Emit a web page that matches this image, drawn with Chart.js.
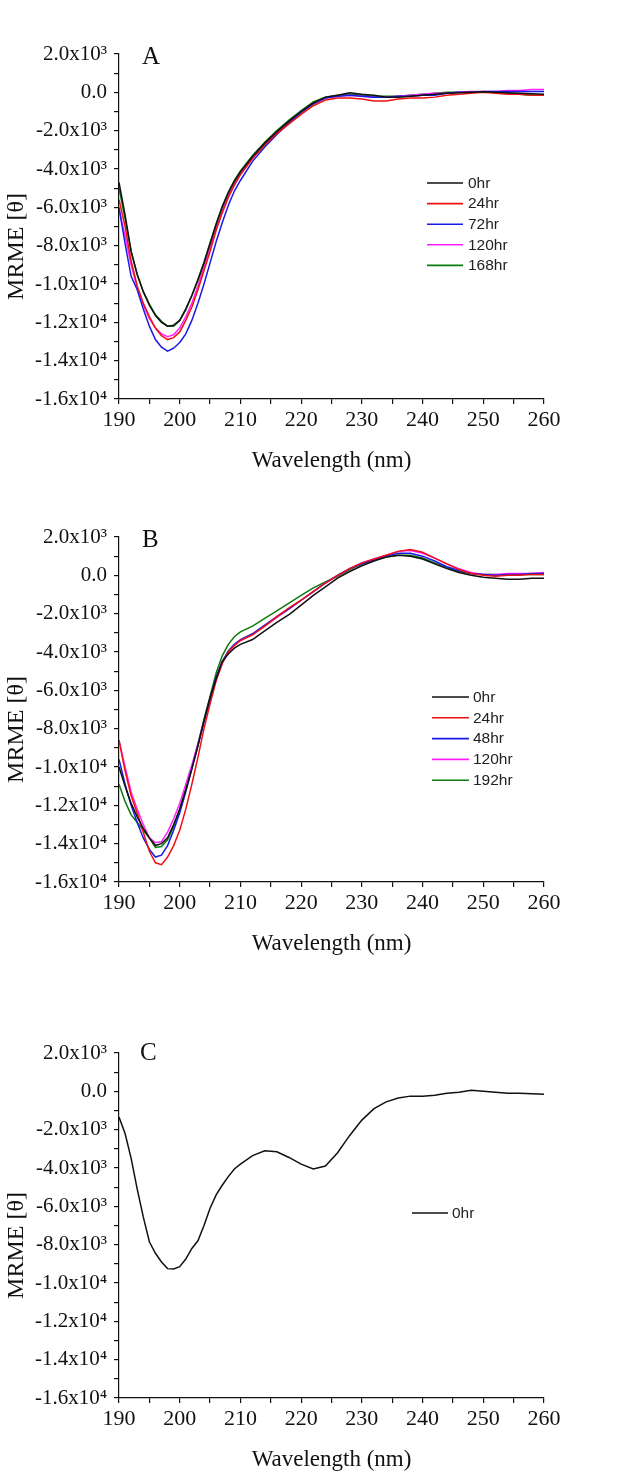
<!DOCTYPE html>
<html>
<head>
<meta charset="utf-8">
<script src="https://cdn.jsdelivr.net/npm/chart.js@4.4.1/dist/chart.umd.min.js"></script>
<style>
  html, body { margin: 0; padding: 0; background: #fff; }
  body { width: 626px; height: 1479px; position: relative; overflow: hidden; }
  canvas { position: absolute; left: 0; }
</style>
</head>
<body>
<canvas id="cA" width="626" height="483" style="top:0px;width:626px;height:483px"></canvas>
<canvas id="cB" width="626" height="483" style="top:483px;width:626px;height:483px"></canvas>
<canvas id="cC" width="626" height="480" style="top:999px;width:626px;height:480px"></canvas>
<script>
// ---------- DATA ----------
const wavelengths = [190,191,192,193,194,195,196,197,198,199,200,201,202,203,204,205,206,207,208,209,210,
  212,214,216,218,220,222,224,226,228,230,232,234,236,238,240,242,244,246,248,250,252,254,256,258,260];

const xTickLabels = ['190','200','210','220','230','240','250','260'];
const yTickLabels = ['2.0x10\u00B3','0.0','-2.0x10\u00B3','-4.0x10\u00B3','-6.0x10\u00B3','-8.0x10\u00B3',
  '-1.0x10\u2074','-1.2x10\u2074','-1.4x10\u2074','-1.6x10\u2074'];

// Panel A
const seriesNamesA = ['0hr','24hr','72hr','120hr','168hr'];
const a_0hr = [-4700,-6400,-8300,-9500,-10400,-11100,-11650,-12000,-12200,-12150,-11900,-11300,-10600,-9800,-8900,-7900,-6900,-6000,-5250,-4650,-4150,
  -3350,-2650,-2050,-1500,-1000,-550,-250,-150,-20,-100,-150,-250,-250,-200,-150,-100,-50,-20,0,30,0,-20,-50,-80,-100];
const a_24hr = [-5600,-7000,-8800,-10100,-11000,-11700,-12300,-12700,-12900,-12800,-12500,-11900,-11200,-10300,-9300,-8300,-7200,-6300,-5500,-4850,-4300,
  -3450,-2750,-2150,-1650,-1150,-700,-400,-300,-300,-350,-450,-450,-350,-300,-300,-250,-150,-100,-50,0,-50,-100,-100,-150,-150];
const a_72hr = [-6000,-7900,-9600,-10300,-11300,-12200,-12900,-13300,-13500,-13350,-13050,-12600,-11900,-11000,-10000,-8900,-7800,-6800,-5900,-5150,-4600,
  -3600,-2850,-2200,-1600,-1050,-600,-300,-200,-150,-200,-250,-250,-200,-200,-150,-150,-50,0,0,50,50,50,50,50,50];
const a_120hr = [-6100,-7500,-9000,-10200,-11100,-11800,-12300,-12600,-12750,-12650,-12300,-11700,-11000,-10100,-9100,-8100,-7100,-6200,-5400,-4750,-4250,
  -3400,-2700,-2100,-1550,-1050,-600,-300,-200,-150,-200,-250,-250,-200,-150,-100,-50,-50,0,50,50,50,100,100,150,150];
const a_168hr = [-5000,-6600,-8300,-9500,-10400,-11050,-11600,-11950,-12200,-12200,-11900,-11350,-10600,-9750,-8850,-7850,-6850,-5950,-5200,-4600,-4100,
  -3300,-2600,-2000,-1450,-950,-500,-250,-150,-100,-150,-200,-200,-200,-150,-100,-50,0,0,0,0,0,-50,-100,-150,-150];

// Panel B
const seriesNamesB = ['0hr','24hr','48hr','120hr','192hr'];
const b_0hr = [-10000,-11000,-11900,-12600,-13200,-13700,-14100,-14000,-13700,-13000,-12200,-11200,-10100,-8900,-7600,-6400,-5400,-4500,-4100,-3800,-3600,
  -3350,-2900,-2450,-2050,-1550,-1050,-600,-150,200,500,750,950,1050,1000,850,600,350,150,0,-100,-150,-200,-200,-150,-150];
const b_24hr = [-8600,-10200,-11500,-12400,-13400,-14400,-15000,-15100,-14700,-14100,-13300,-12200,-10900,-9500,-8000,-6700,-5500,-4600,-4000,-3650,-3400,
  -3100,-2650,-2150,-1700,-1300,-850,-400,0,350,650,850,1050,1250,1350,1200,900,600,300,100,0,-50,0,0,50,50];
const b_48hr = [-9600,-10900,-12000,-12900,-13700,-14300,-14700,-14600,-14100,-13300,-12400,-11300,-10100,-8900,-7600,-6400,-5300,-4500,-3950,-3600,-3350,
  -3050,-2600,-2150,-1750,-1300,-850,-400,0,350,600,800,1000,1150,1150,1000,750,450,250,100,50,0,50,50,100,100];
const b_120hr = [-8600,-10000,-11300,-12200,-13000,-13700,-13950,-13900,-13400,-12700,-11900,-10900,-9900,-8800,-7600,-6450,-5400,-4600,-4000,-3650,-3400,
  -3050,-2650,-2200,-1750,-1300,-850,-400,0,350,650,850,1050,1250,1300,1150,900,600,350,150,50,50,100,100,100,150];
const b_192hr = [-10900,-11800,-12500,-12900,-13300,-13700,-14200,-14150,-13800,-13100,-12200,-11100,-10000,-8800,-7500,-6300,-5100,-4200,-3600,-3200,-2950,
  -2650,-2250,-1850,-1450,-1050,-650,-350,-50,300,600,800,950,1050,1050,900,650,400,200,100,50,50,0,50,50,50];

// Panel C
const seriesNamesC = ['0hr'];
const c_0hr = [-1340,-2200,-3500,-5100,-6550,-7850,-8450,-8900,-9250,-9270,-9150,-8750,-8200,-7800,-7000,-6100,-5400,-4900,-4450,-4050,-3800,
  -3350,-3100,-3150,-3450,-3800,-4050,-3900,-3200,-2300,-1500,-900,-550,-350,-250,-250,-200,-100,-50,50,0,-50,-100,-100,-120,-150];

const colors5 = ['#111111','#ee1111','#1a1ae6','#ff22ff','#0c7a0c'];

// ---------- PLUGINS ----------
const decorPlugin = {
  id: 'decor',
  afterDraw(chart) {
    const o = chart.options.plugins.decor;
    const ctx = chart.ctx;
    const area = chart.chartArea;
    ctx.save();
    // panel letter
    ctx.fillStyle = '#111';
    ctx.font = '25px "Liberation Serif", "Times New Roman", serif';
    ctx.textAlign = 'left';
    ctx.textBaseline = 'middle';
    ctx.fillText(o.letter, o.letterX, o.letterY);
    // y axis title
    ctx.save();
    ctx.translate(17, (area.top + area.bottom) / 2 + 20);
    ctx.rotate(-Math.PI / 2);
    ctx.textAlign = 'center';
    ctx.textBaseline = 'middle';
    ctx.font = '24px "Liberation Serif", "Times New Roman", serif';
    ctx.fillText('MRME [\u03B8]', 0, 0);
    ctx.restore();
    // legend
    ctx.font = '15.5px "Liberation Sans", Arial, sans-serif';
    ctx.textAlign = 'left';
    ctx.textBaseline = 'middle';
    chart.data.datasets.forEach((ds, i) => {
      const y = o.legY + i * o.legStep;
      ctx.strokeStyle = ds.borderColor;
      ctx.lineWidth = 1.6;
      ctx.beginPath();
      ctx.moveTo(o.legX1, y);
      ctx.lineTo(o.legX2, y);
      ctx.stroke();
      ctx.fillStyle = '#222';
      ctx.fillText(ds.label, o.legTX, y + 0.5);
    });
    ctx.restore();
  }
};

function makePanel(id, names, series, canvasH, decor) {
  const datasets = series.map((vals, i) => ({
    label: names[i],
    data: wavelengths.map((w, k) => ({ x: w, y: vals[k] })),
    borderColor: colors5[i],
    backgroundColor: colors5[i],
    borderWidth: 1.5,
    pointRadius: 0,
    tension: 0,
    fill: false
  }));
  return new Chart(document.getElementById(id), {
    type: 'line',
    data: { datasets },
    plugins: [decorPlugin],
    options: {
      responsive: false,
      animation: false,
      devicePixelRatio: 1,
      layout: { padding: { left: 0, top: 54, right: 82, bottom: canvasH - 399 - 76 } },
      plugins: {
        legend: { display: false },
        tooltip: { enabled: false },
        decor
      },
      scales: {
        x: {
          type: 'linear',
          min: 190, max: 260,
          afterFit(s) { s.height = 76; },
          border: { display: true, color: '#111', width: 1.2 },
          grid: { drawOnChartArea: false, drawTicks: true, tickLength: 5, color: '#111', lineWidth: 1.2 },
          ticks: {
            stepSize: 5,
            autoSkip: false,
            maxRotation: 0,
            padding: 3,
            color: '#111',
            font: { family: '"Liberation Serif", "Times New Roman", serif', size: 22 },
            callback(v) { return (v % 10 === 0) ? xTickLabels[(v - 190) / 10] : ''; }
          },
          title: {
            display: true,
            text: 'Wavelength (nm)',
            color: '#111',
            padding: 0,
            font: { family: '"Liberation Serif", "Times New Roman", serif', size: 23 }
          }
        },
        y: {
          type: 'linear',
          min: -16000, max: 2000,
          afterFit(s) { s.width = 119; },
          border: { display: true, color: '#111', width: 1.2 },
          grid: { drawOnChartArea: false, drawTicks: true, tickLength: 5, color: '#111', lineWidth: 1.2 },
          ticks: {
            stepSize: 1000,
            autoSkip: false,
            padding: 7,
            color: '#111',
            font: { family: '"Liberation Serif", "Times New Roman", serif', size: 21 },
            callback(v) { return (v % 2000 === 0) ? yTickLabels[(2000 - v) / 2000] : ''; }
          }
        }
      }
    }
  });
}

makePanel('cA', seriesNamesA, [a_0hr, a_24hr, a_72hr, a_120hr, a_168hr], 483,
  { letter: 'A', letterX: 142, letterY: 57, legX1: 427, legX2: 463, legTX: 468, legY: 183, legStep: 20.6 });
makePanel('cB', seriesNamesB, [b_0hr, b_24hr, b_48hr, b_120hr, b_192hr], 483,
  { letter: 'B', letterX: 142, letterY: 57, legX1: 432, legX2: 469, legTX: 473, legY: 214, legStep: 20.8 });
makePanel('cC', seriesNamesC, [c_0hr], 480,
  { letter: 'C', letterX: 140, letterY: 54, legX1: 412, legX2: 448, legTX: 452, legY: 214, legStep: 20.8 });
</script>
</body>
</html>
